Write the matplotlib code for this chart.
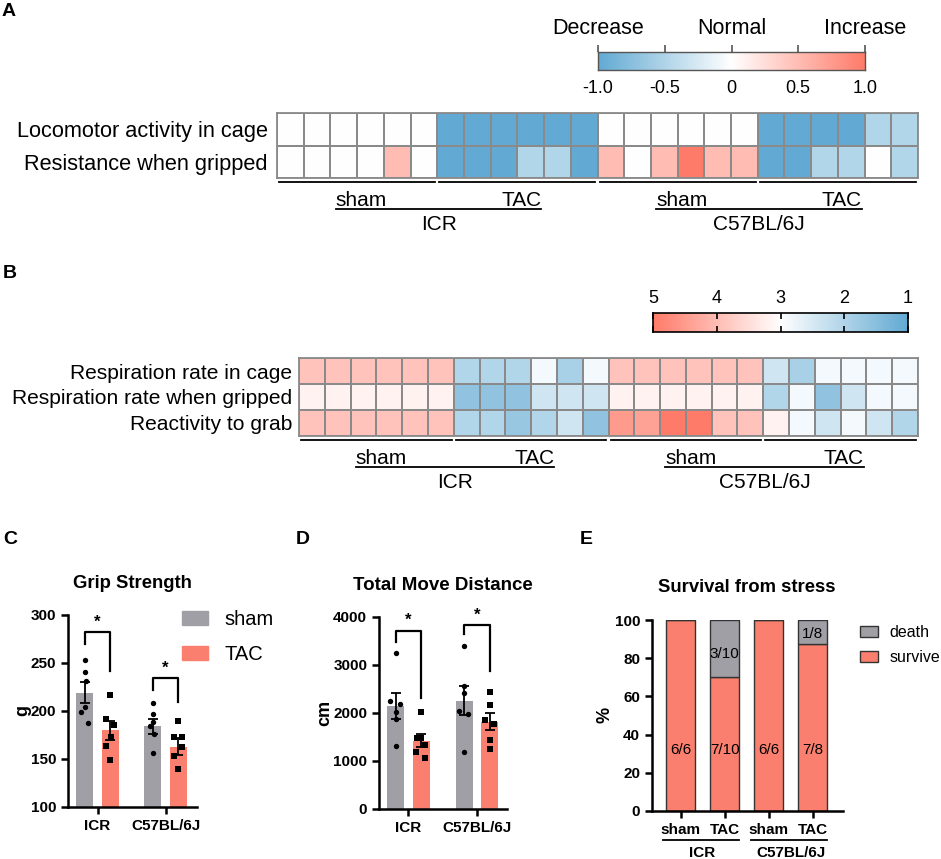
import numpy as np
import matplotlib
matplotlib.use("Agg")
import matplotlib.pyplot as plt
from matplotlib.colors import LinearSegmentedColormap
from matplotlib.transforms import blended_transform_factory
from matplotlib.patches import Patch

plt.rcParams["font.family"] = ["Liberation Sans", "DejaVu Sans"]

# ---------------- data ----------------
strains = ["ICR", "C57BL/6J"]
groups = ["sham", "TAC"]

# panel A: -1 decrease, 0 normal, 1 increase (24 mice: ICR sham, ICR TAC, C57 sham, C57 TAC)
a_rows = ["Locomotor activity in cage", "Resistance when gripped"]
a_locomotor = [0, 0, 0, 0, 0, 0, -1, -1, -1, -1, -1, -1,
               0, 0, 0, 0, 0, 0, -1, -1, -1, -1, -0.5, -0.5]
a_resistance = [0, 0, 0, 0, 0.5, 0, -1, -1, -1, -0.5, -0.5, -1,
                0.5, 0, 0.5, 1, 0.5, 0.5, -1, -1, -0.5, -0.5, 0, -0.5]
a_ticks = [-1.0, -0.5, 0, 0.5, 1.0]
a_ticklabels = ["-1.0", "-0.5", "0", "0.5", "1.0"]
a_scale_words = ["Decrease", "Normal", "Increase"]

# panel B: score 1..5
b_rows = ["Respiration rate in cage", "Respiration rate when gripped", "Reactivity to grab"]
b_cage = [3.9, 3.9, 3.9, 3.9, 3.9, 3.9, 2.0, 2.0, 2.0, 2.85, 1.9, 2.85,
          3.9, 3.9, 3.9, 3.9, 3.9, 3.9, 2.4, 1.9, 2.85, 2.85, 2.85, 2.85]
b_gripped = [3.2, 3.2, 3.2, 3.2, 3.2, 3.2, 1.6, 1.6, 1.6, 2.4, 2.4, 2.4,
             3.2, 3.2, 3.2, 3.2, 3.2, 3.2, 2.0, 2.85, 1.6, 2.4, 2.85, 2.85]
b_grab = [3.9, 3.9, 3.9, 3.9, 3.9, 3.9, 2.0, 2.0, 1.7, 2.0, 2.4, 1.6,
          4.5, 4.4, 5.0, 5.0, 3.9, 3.9, 3.2, 2.85, 2.4, 2.85, 2.4, 2.0]
b_ticks = [5, 4, 3, 2, 1]

# panel C: grip strength (g)
grip_sham_mean = [219, 184]
grip_sham_sem = [11, 8]
grip_tac_mean = [180, 163]
grip_tac_sem = [10, 9]
grip_sham_pts = [[253, 241, 231, 204, 199, 187], [208, 197, 189, 184, 176, 156]]
grip_tac_pts = [[217, 192, 185, 173, 164, 149], [190, 173, 173, 163, 153, 140]]
grip_brackets = [(270, 282, 242, 292), (222, 234, 209, 245)]  # left leg, top, right leg, star

# panel D: total move distance (cm)
move_sham_mean = [2150, 2260]
move_sham_sem = [270, 310]
move_tac_mean = [1425, 1820]
move_tac_sem = [135, 180]
move_sham_pts = [[3250, 2250, 2190, 2020, 1875, 1310], [3400, 2560, 2420, 2040, 1980, 1190]]
move_tac_pts = [[2020, 1480, 1480, 1330, 1190, 1060], [2440, 2170, 1850, 1770, 1440, 1250]]
move_brackets = [(3480, 3710, 2310, 3940), (3650, 3830, 2875, 4040)]

# panel E: survival
surv_ticklabels = ["sham", "TAC", "sham", "TAC"]
survive_pct = [100, 70, 100, 87.5]
death_pct = [0, 30, 0, 12.5]
survive_txt = ["6/6", "7/10", "6/6", "7/8"]
death_txt = ["", "3/10", "", "1/8"]

# ---------------- style ----------------
W, H = 941, 859
BLUE = "#62AAD3"
RED = "#FF7B69"
GRAY = "#A19FA6"
SALMON = "#FA7F6E"
GRID = "#8a8a8a"
cmap = LinearSegmentedColormap.from_list("dec_inc", [BLUE, "white", RED])

sham_jit_c = [[0, 0, 0.01, 0, -0.06, 0.05], [0, 0, 0, -0.04, 0.02, 0]]
tac_jit_c = [[0, -0.06, 0.06, 0.015, -0.06, 0], [0, -0.065, 0.06, 0.06, -0.065, 0]]
sham_jit_d = [[0, -0.08, 0.06, 0, 0, 0], [0, 0, 0, -0.07, 0.06, 0]]
tac_jit_d = [[0, -0.06, 0, 0.05, -0.07, 0.05], [0, 0, -0.06, 0.06, 0, 0]]

fig = plt.figure(figsize=(W / 100, H / 100), dpi=100)


def add_ax(x0, y0, x1, y1):
    return fig.add_axes([x0 / W, 1 - y1 / H, (x1 - x0) / W, (y1 - y0) / H])


def fy(ypix):
    return 1 - ypix / H


def heatmap(ax, rows, vals, vmin, vmax, pad, fs):
    arr = np.array(vals)
    ax.pcolormesh(arr, cmap=cmap, vmin=vmin, vmax=vmax, edgecolors=GRID, linewidth=1.3)
    ax.set_xlim(0, arr.shape[1])
    ax.set_ylim(arr.shape[0], 0)
    ax.set_xticks([])
    ax.set_yticks(np.arange(len(rows)) + 0.5, rows, fontsize=fs)
    ax.tick_params(axis="y", length=0, pad=pad)
    for s in ax.spines.values():
        s.set_color(GRID)
        s.set_linewidth(1.3)


def group_labels(ax, y0):
    tr = blended_transform_factory(ax.transData, fig.transFigure)
    for g in range(4):
        ax.plot([6 * g + 0.08, 6 * g + 5.92], [fy(y0 + 4)] * 2, transform=tr,
                color="black", lw=1.3, clip_on=False)
    for i, strain in enumerate(strains):
        x0, x1 = 12 * i + 2.2, 12 * i + 9.9
        ax.text(x0, fy(y0 + 22), groups[0], ha="left", va="center", fontsize=15, transform=tr)
        ax.text(x1, fy(y0 + 22), groups[1], ha="right", va="center", fontsize=15, transform=tr)
        ax.plot([x0, x1], [fy(y0 + 31)] * 2, transform=tr, color="black", lw=1.3, clip_on=False)
        ax.text(12 * i + 6.05, fy(y0 + 47), strain, ha="center", va="center", fontsize=15, transform=tr)


def style_axes(ax):
    for side in ["top", "right"]:
        ax.spines[side].set_visible(False)
    for side in ["left", "bottom"]:
        ax.spines[side].set_linewidth(1.8)
    ax.tick_params(width=1.8, length=5, labelsize=11)
    for lab in ax.get_xticklabels() + ax.get_yticklabels():
        lab.set_fontweight("bold")


def bar_panel(ax, sm, ss, sp, tm, ts, tp, sj, tj, brackets):
    off, w = 0.185, 0.25
    for i in range(2):
        for x, m, e, pts, jit, mk, col, sz in [(i - off, sm[i], ss[i], sp[i], sj[i], "o", GRAY, 15),
                                               (i + off, tm[i], ts[i], tp[i], tj[i], "s", SALMON, 18)]:
            ax.bar(x, m, w, color=col, zorder=1)
            ax.errorbar(x, m, yerr=e, color="black", lw=1.3, capsize=3.8, capthick=1.3, zorder=2)
            ax.scatter(x + np.array(jit), pts, marker=mk, s=sz, color="black", zorder=3, linewidths=0)
        yl, yt, yr, ys = brackets[i]
        ax.plot([i - off, i - off, i + off, i + off], [yl, yt, yt, yr], color="black", lw=1.6)
        ax.text(i, ys, "*", ha="center", va="center", fontsize=12, fontweight="bold")
    ax.set_xticks([0, 1], strains)


# ---------------- panel A ----------------
fig.text(2 / W, fy(12), "A", fontsize=14, fontweight="bold", va="center")
ax_a = add_ax(277, 113, 918, 178)
heatmap(ax_a, a_rows, [a_locomotor, a_resistance], -1, 1, 6.5, 15.7)
group_labels(ax_a, 178)

cax_a = add_ax(598, 52, 865, 70)
cax_a.imshow(np.linspace(-1, 1, 256)[None, :], extent=[-1, 1, 0, 1], aspect="auto",
             cmap=cmap, vmin=-1, vmax=1)
cax_a.set_xlim(-1, 1)
cax_a.set_yticks([])
cax_a.set_xticks(a_ticks, a_ticklabels)
cax_a.tick_params(axis="x", top=True, bottom=False, labelbottom=True, labeltop=False,
                  length=5, width=1.2, color="#555555", labelsize=13, pad=2)
for s in cax_a.spines.values():
    s.set_color("#555555")
    s.set_linewidth(1.0)
tr = blended_transform_factory(cax_a.transData, fig.transFigure)
for xv, word in zip([-1, 0, 1], a_scale_words):
    cax_a.text(xv, fy(28), word, ha="center", va="center", fontsize=15.5, transform=tr)

# ---------------- panel B ----------------
fig.text(3 / W, fy(273), "B", fontsize=14, fontweight="bold", va="center")
ax_b = add_ax(299, 358, 918, 436)
heatmap(ax_b, b_rows, [b_cage, b_gripped, b_grab], 1, 5, 5, 15.1)
group_labels(ax_b, 436)

cax_b = add_ax(653, 313, 908, 332)
cax_b.imshow(np.linspace(1, 5, 256)[None, :], extent=[1, 5, 0, 1], aspect="auto",
             cmap=cmap, vmin=1, vmax=5)
cax_b.set_xlim(5, 1)
cax_b.set_yticks([])
cax_b.set_xticks(b_ticks, [str(t) for t in b_ticks])
cax_b.tick_params(axis="x", top=True, bottom=True, labeltop=True, labelbottom=False,
                  direction="in", length=4, width=1.2, labelsize=13, pad=4)
for s in cax_b.spines.values():
    s.set_linewidth(1.2)

# ---------------- panel C ----------------
fig.text(3 / W, fy(540), "C", fontsize=14, fontweight="bold", va="center")
ax_c = add_ax(68, 615, 197, 807)
bar_panel(ax_c, grip_sham_mean, grip_sham_sem, grip_sham_pts,
          grip_tac_mean, grip_tac_sem, grip_tac_pts, sham_jit_c, tac_jit_c, grip_brackets)
ax_c.set_xlim(-0.434, 1.463)
ax_c.set_ylim(100, 300)
ax_c.set_yticks([100, 150, 200, 250, 300])
style_axes(ax_c)
fig.text(132 / W, fy(583), "Grip Strength", ha="center", va="center", fontsize=13.3, fontweight="bold")
fig.text(23 / W, fy(711), "g", ha="center", va="center", rotation=90, fontsize=13, fontweight="bold")
ax_c.legend([Patch(color=GRAY), Patch(color=SALMON)], groups, loc="upper left",
            bbox_to_anchor=(182 / W, fy(610)), bbox_transform=fig.transFigure,
            frameon=False, fontsize=14.5, handlelength=1.3, handleheight=0.72,
            labelspacing=0.8, handletextpad=0.8, borderpad=0, borderaxespad=0)

# ---------------- panel D ----------------
fig.text(296 / W, fy(540), "D", fontsize=14, fontweight="bold", va="center")
ax_d = add_ax(379, 617, 507, 809)
bar_panel(ax_d, move_sham_mean, move_sham_sem, move_sham_pts,
          move_tac_mean, move_tac_sem, move_tac_pts, sham_jit_d, tac_jit_d, move_brackets)
ax_d.set_xlim(-0.43, 1.44)
ax_d.set_ylim(0, 4000)
ax_d.set_yticks([0, 1000, 2000, 3000, 4000])
style_axes(ax_d)
fig.text(443 / W, fy(585), "Total Move Distance", ha="center", va="center", fontsize=13.5, fontweight="bold")
fig.text(325 / W, fy(713), "cm", ha="center", va="center", rotation=90, fontsize=13, fontweight="bold")

# ---------------- panel E ----------------
fig.text(580 / W, fy(540), "E", fontsize=14, fontweight="bold", va="center")
ax_e = add_ax(652, 620, 843, 811)
xe = np.arange(len(survive_pct))
ax_e.bar(xe, survive_pct, 0.66, color=SALMON, edgecolor="#333333", lw=1.0)
ax_e.bar(xe, death_pct, 0.66, bottom=survive_pct, color=GRAY, edgecolor="#333333", lw=1.0)
for i in range(len(xe)):
    ax_e.text(xe[i], 32, survive_txt[i], ha="center", va="center", fontsize=11)
    if death_txt[i]:
        ax_e.text(xe[i], survive_pct[i] + death_pct[i] * 0.4, death_txt[i],
                  ha="center", va="center", fontsize=11)
ax_e.set_xlim(-0.65, 3.69)
ax_e.set_ylim(0, 100)
ax_e.set_yticks([0, 20, 40, 60, 80, 100])
ax_e.set_xticks(xe, surv_ticklabels)
style_axes(ax_e)
tr = blended_transform_factory(ax_e.transData, fig.transFigure)
for i, strain in enumerate(strains):
    ax_e.plot([2 * i - 0.4, 2 * i + 1.32], [fy(840)] * 2, transform=tr, color="black", lw=1.3, clip_on=False)
    ax_e.text(2 * i + 0.5, fy(853), strain, ha="center", va="center", fontsize=11,
              fontweight="bold", transform=tr)
fig.text(747 / W, fy(588), "Survival from stress", ha="center", va="center", fontsize=13.3, fontweight="bold")
fig.text(605 / W, fy(715), "%", ha="center", va="center", rotation=90, fontsize=13, fontweight="bold")
ax_e.legend([Patch(facecolor=GRAY, edgecolor="#333333"), Patch(facecolor=SALMON, edgecolor="#333333")],
            ["death", "survive"], loc="upper left",
            bbox_to_anchor=(860 / W, fy(625)), bbox_transform=fig.transFigure,
            frameon=False, fontsize=11.5, handlelength=1.15, handleheight=0.65,
            labelspacing=0.65, handletextpad=0.7, borderpad=0, borderaxespad=0)

fig.savefig("out.png", dpi=100)
